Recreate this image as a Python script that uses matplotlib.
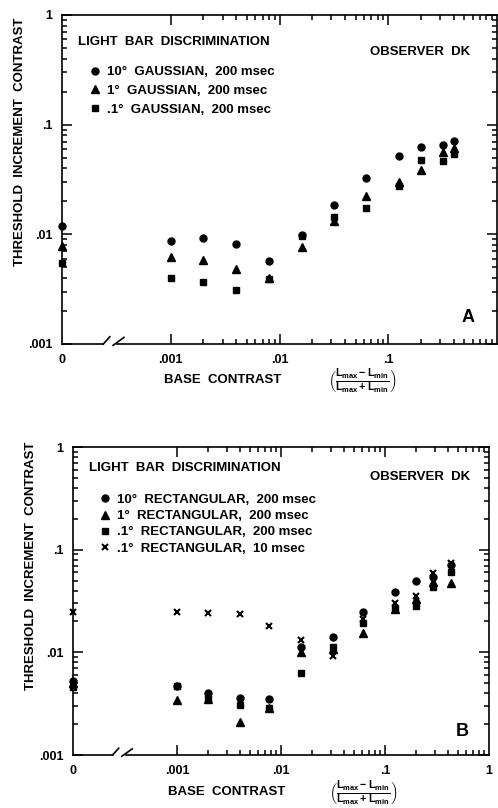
import numpy as np
import matplotlib
matplotlib.use("Agg")
import matplotlib.pyplot as plt
from matplotlib.ticker import FixedLocator, NullFormatter
import matplotlib.transforms as mtransforms

# ---------------- data ----------------
# "0" base contrast is drawn at the left edge (1e-4 position on log axis)
ZERO_POS = 1e-4

# Panel A (Gaussian bars, 200 msec)
xA = [0, 0.001, 0.002, 0.004, 0.008, 0.016, 0.032, 0.063, 0.126, 0.20, 0.32, 0.40]
a_10deg = [0.0119, 0.0087, 0.0092, 0.0082, 0.0057, 0.0099, 0.0187, 0.0329, 0.0522, 0.0632, 0.0656, 0.0709]
a_1deg = [0.0078, 0.0062, 0.0058, 0.0048, 0.0040, 0.0077, 0.0132, 0.0222, 0.0298, 0.0387, 0.0569, 0.0610]
a_01deg = [0.0055, 0.0040, 0.0037, 0.0031, 0.0039, 0.0096, 0.0145, 0.0174, 0.0277, 0.0481, 0.0471, 0.0540]

# Panel B (rectangular bars)
xB = [0, 0.001, 0.002, 0.004, 0.0076, 0.0157, 0.0317, 0.062, 0.125, 0.197, 0.29, 0.43]
b_10deg = [0.0053, 0.0047, 0.0040, 0.0036, 0.0035, 0.0112, 0.0142, 0.0248, 0.0384, 0.0498, 0.0544, 0.0705]
b_1deg = [0.0050, 0.0034, 0.0035, 0.0021, 0.0029, 0.0101, 0.0108, 0.0155, 0.0264, 0.0330, 0.0487, 0.0470]
b_01deg = [0.0046, 0.0047, 0.0036, 0.0031, 0.0029, 0.0063, 0.0113, 0.0194, 0.0268, 0.0284, 0.0435, 0.0610]
b_01deg_10ms = [0.0245, 0.0248, 0.0240, 0.0234, 0.0180, 0.0132, 0.0092, 0.0210, 0.0304, 0.0353, 0.0588, 0.0735]

labels_A = ["10°  GAUSSIAN,  200 msec", "1°  GAUSSIAN,  200 msec", ".1°  GAUSSIAN,  200 msec"]
labels_B = ["10°  RECTANGULAR,  200 msec", "1°  RECTANGULAR,  200 msec",
            ".1°  RECTANGULAR,  200 msec", ".1°  RECTANGULAR,  10 msec"]

x_major = [ZERO_POS, 0.001, 0.01, 0.1, 1]
x_major_labels = ["0", ".001", ".01", ".1", "1"]
y_major = [0.001, 0.01, 0.1, 1]
y_major_labels = [".001", ".01", ".1", "1"]

plt.rcParams['font.family'] = ['Liberation Sans', 'DejaVu Sans']
plt.rcParams['font.weight'] = 'bold'
plt.rcParams['mathtext.fontset'] = 'custom'
plt.rcParams['mathtext.rm'] = 'Liberation Sans:bold'
plt.rcParams['mathtext.it'] = 'Liberation Sans:bold'
plt.rcParams['mathtext.bf'] = 'Liberation Sans:bold'

FS = 9.5
W, H = 498, 808
fig = plt.figure(figsize=(W / 100, H / 100), dpi=100)


def to_pos(xs):
    return [ZERO_POS if v == 0 else v for v in xs]


def setup_axes(ax, show_one_label):
    ax.set_xscale('log')
    ax.set_yscale('log')
    ax.set_xlim(ZERO_POS, 1)
    ax.set_ylim(0.001, 1)
    ax.spines['bottom'].set_visible(False)
    for s in ['left', 'right', 'top']:
        ax.spines[s].set_linewidth(1.2)
    ax.xaxis.set_major_locator(FixedLocator(x_major))
    ax.set_xticklabels(x_major_labels if show_one_label else x_major_labels[:-1] + [""])
    minors = [m * 10.0 ** e for e in (-3, -2, -1) for m in range(2, 10)]
    ax.xaxis.set_minor_locator(FixedLocator(minors))
    ax.xaxis.set_minor_formatter(NullFormatter())
    ax.yaxis.set_major_locator(FixedLocator(y_major))
    ax.set_yticklabels(y_major_labels)
    yminors = [m * 10.0 ** e for e in (-3, -2, -1) for m in range(2, 10)]
    ax.yaxis.set_minor_locator(FixedLocator(yminors))
    ax.yaxis.set_minor_formatter(NullFormatter())
    ax.tick_params(which='both', direction='in', top=True, right=True, bottom=True,
                   width=1.1, labelsize=9, colors='black')
    ax.tick_params(which='major', length=7, pad=7)
    ax.tick_params(which='minor', length=3.5)
    ax.xaxis.get_major_ticks()[0].tick1line.set_visible(False)
    ax.xaxis.get_major_ticks()[0].tick2line.set_visible(False)
    ax.xaxis.get_major_ticks()[-1].tick1line.set_visible(False)
    ax.xaxis.get_major_ticks()[-1].tick2line.set_visible(False)
    # broken bottom axis
    tr = mtransforms.blended_transform_factory(ax.transData, ax.transAxes)
    b1, b2 = 10 ** -3.62, 10 ** -3.49
    ax.plot([ZERO_POS, b1], [0, 0], color='black', lw=1.2, transform=tr, clip_on=False)
    ax.plot([b2, 1], [0, 0], color='black', lw=1.2, transform=tr, clip_on=False)
    ax.plot([b1, 10 ** -3.56], [0, 0.022], color='black', lw=1.2, transform=tr, clip_on=False)
    ax.plot([10 ** -3.53, 10 ** -3.43], [-0.004, 0.02], color='black', lw=1.2,
            transform=tr, clip_on=False)


FRAC = r"$\left(\frac{\mathrm{L_{max}-L_{min}}}{\mathrm{L_{max}+L_{min}}}\right)$"
mk = dict(color='black', linestyle='none', clip_on=False)

# ---------------- Panel A ----------------
axA = fig.add_axes([62 / W, 1 - 344 / H, 435 / W, 329 / H])
setup_axes(axA, False)
hA = []
hA += axA.plot(to_pos(xA), a_10deg, marker='o', markersize=5, label=labels_A[0], **mk)
hA += axA.plot(to_pos(xA), a_1deg, marker='^', markersize=5.2, label=labels_A[1], **mk)
hA += axA.plot(to_pos(xA), a_01deg, marker='s', markersize=4.5, label=labels_A[2], **mk)
axA.text(0.037, 0.918, "LIGHT  BAR  DISCRIMINATION", transform=axA.transAxes,
         fontsize=FS, va='center', ha='left')
axA.text(0.938, 0.888, "OBSERVER  DK", transform=axA.transAxes,
         fontsize=FS, va='center', ha='right')
axA.legend(handles=hA, loc='upper left', bbox_to_anchor=(0.064, 0.845), frameon=False,
           fontsize=FS, handlelength=0.8, handletextpad=0.5, labelspacing=0.5,
           borderpad=0, borderaxespad=0)
axA.text(0.933, 0.082, "A", transform=axA.transAxes, fontsize=13, ha='center', va='center')
axA.set_ylabel("THRESHOLD  INCREMENT  CONTRAST", fontsize=FS, fontweight='bold')
axA.yaxis.set_label_coords((26 - 62) / 435, (344 - 142) / 329)
fig.text(223 / W, 1 - 380 / H, "BASE  CONTRAST", ha='center', va='center', fontsize=FS)
fig.text(362 / W, 1 - 381 / H, FRAC, ha='center', va='center', fontsize=11)

# ---------------- Panel B ----------------
axB = fig.add_axes([73 / W, 1 - 755 / H, 416 / W, 308 / H])
setup_axes(axB, True)
hB = []
hB += axB.plot(to_pos(xB), b_10deg, marker='o', markersize=5, label=labels_B[0], **mk)
hB += axB.plot(to_pos(xB), b_1deg, marker='^', markersize=5.2, label=labels_B[1], **mk)
hB += axB.plot(to_pos(xB), b_01deg, marker='s', markersize=4.5, label=labels_B[2], **mk)
hB += axB.plot(to_pos(xB), b_01deg_10ms, marker='x', markersize=4.8, markeredgewidth=1.5,
               label=labels_B[3], **mk)
axB.text(0.038, 0.932, "LIGHT  BAR  DISCRIMINATION", transform=axB.transAxes,
         fontsize=FS, va='center', ha='left')
axB.text(0.954, 0.903, "OBSERVER  DK", transform=axB.transAxes,
         fontsize=FS, va='center', ha='right')
axB.legend(handles=hB, loc='upper left', bbox_to_anchor=(0.064, 0.848), frameon=False,
           fontsize=FS, handlelength=0.8, handletextpad=0.5, labelspacing=0.3,
           borderpad=0, borderaxespad=0)
axB.text(0.935, 0.075, "B", transform=axB.transAxes, fontsize=13, ha='center', va='center')
axB.set_ylabel("THRESHOLD  INCREMENT  CONTRAST", fontsize=FS, fontweight='bold')
axB.yaxis.set_label_coords((37 - 73) / 416, (755 - 566) / 308)
fig.text(227 / W, 1 - 792 / H, "BASE  CONTRAST", ha='center', va='center', fontsize=FS)
fig.text(363 / W, 1 - 793 / H, FRAC, ha='center', va='center', fontsize=11)

fig.savefig("out.png", dpi=100)
